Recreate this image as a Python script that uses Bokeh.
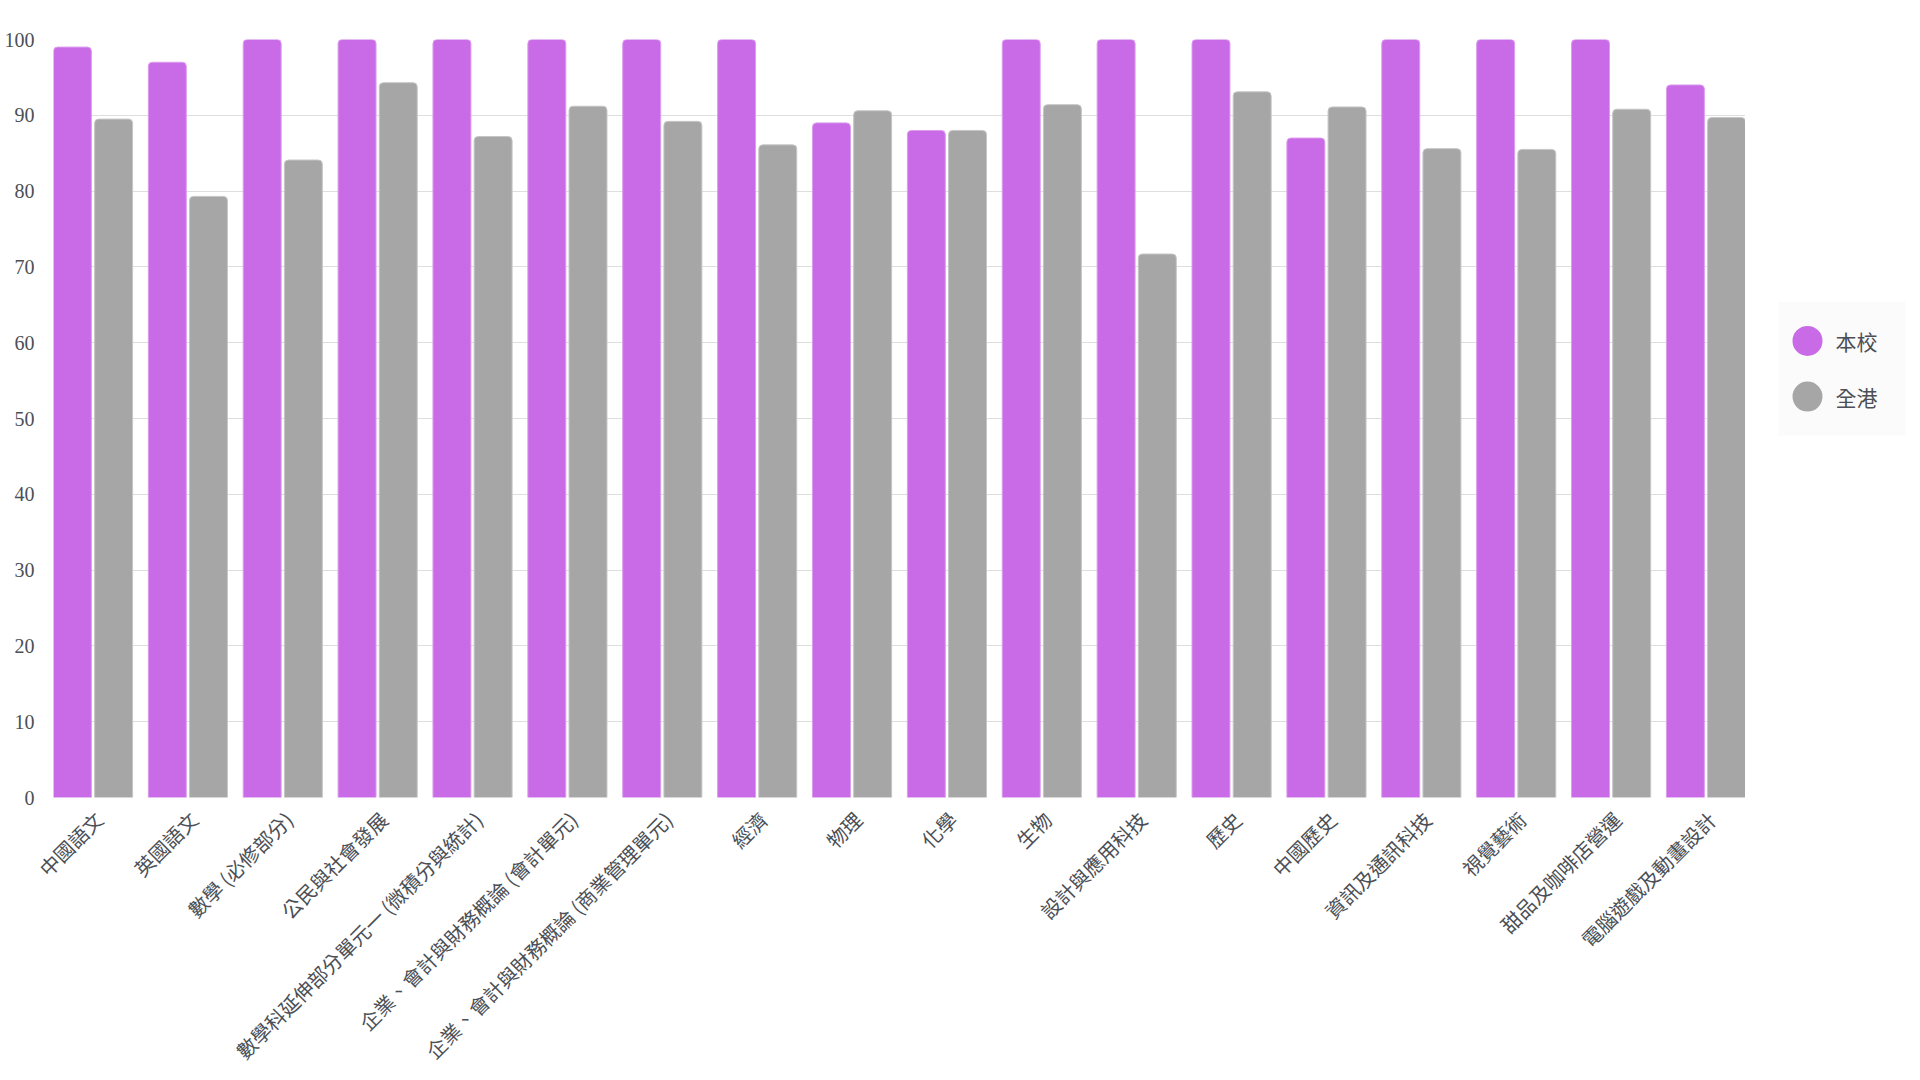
from bokeh.plotting import figure
from bokeh.models import Range1d, ColumnDataSource, FixedTicker
from bokeh.layouts import row
from bokeh.embed import file_html
from bokeh.resources import INLINE
from bokeh.core.properties import value
import math

subjects = [
    "中國語文", "英國語文", "數學 (必修部分)", "公民與社會發展",
    "數學科延伸部分單元一 (微積分與統計)", "企業、會計與財務概論 (會計單元)",
    "企業、會計與財務概論 (商業管理單元)", "經濟", "物理", "化學", "生物",
    "設計與應用科技", "歷史", "中國歷史", "資訊及通訊科技", "視覺藝術",
    "甜品及咖啡店營運", "電腦遊戲及動畫設計",
]
school = [99, 97, 100, 100, 100, 100, 100, 100, 89, 88, 100, 100, 100, 87, 100, 100, 100, 94]
hk = [89.5, 79.3, 84.1, 94.3, 87.2, 91.2, 89.2, 86.1, 90.6, 88.0, 91.4, 71.7, 93.1, 91.1, 85.6, 85.5, 90.8, 89.7]
series = ["本校", "全港"]
colors = ["#c96be6", "#a6a6a6"]
edge_colors = ["#dc9cef", "#c6c6c6"]
y_ticks = list(range(0, 101, 10))

FONT_CJK = "Noto Sans CJK TC"
TEXT_COLOR = "#4b4f56"

n = len(subjects)
centers = [i + 0.5 for i in range(n)]
source = ColumnDataSource(dict(
    x_school=[c - 0.217 for c in centers],
    x_hk=[c + 0.217 for c in centers],
    school=school, hk=hk,
))

# frame: x 53..1745, y 39..801 (page px)
W, H = 1745, 1078
p = figure(
    x_range=Range1d(0.0835, n - 0.0835),
    y_range=Range1d(0, 100),
    width=W, height=H,
    output_backend="svg", toolbar_location=None,
    min_border_left=53, min_border_right=0, min_border_top=39, min_border_bottom=H - 801,
)
p.outline_line_color = None
p.background_fill_color = "white"
p.border_fill_color = "white"
p.xgrid.grid_line_color = None
p.ygrid.grid_line_color = "#dedede"
p.ygrid.grid_line_width = 1

p.yaxis.ticker = FixedTicker(ticks=y_ticks)
for ax in (p.xaxis, p.yaxis):
    ax.axis_line_color = None
    ax.major_tick_line_color = None
    ax.minor_tick_line_color = None
    ax.major_tick_out = 0
    ax.major_tick_in = 0
p.yaxis.major_label_text_font = "Liberation Serif"
p.yaxis.major_label_text_font_size = "20px"
p.yaxis.major_label_text_color = TEXT_COLOR
p.yaxis.major_label_standoff = 19

# category labels, anchored slightly right of each group centre
label_ticks = [c + 0.0625 for c in centers]
p.xaxis.ticker = FixedTicker(ticks=label_ticks)
p.xaxis.major_label_overrides = {t: s for t, s in zip(label_ticks, subjects)}
p.xaxis.major_label_orientation = math.pi / 4
p.xaxis.major_label_text_font = FONT_CJK
p.xaxis.major_label_text_font_size = "20px"
p.xaxis.major_label_text_color = TEXT_COLOR
p.xaxis.major_label_standoff = 18

p.vbar(x="x_school", top="school", width=0.4, source=source,
       fill_color=colors[0], line_color=edge_colors[0], line_width=1, border_radius=(4, 4, 0, 0))
p.vbar(x="x_hk", top="hk", width=0.4, source=source,
       fill_color=colors[1], line_color=edge_colors[1], line_width=1, border_radius=(4, 4, 0, 0))

# legend panel (page-pixel coordinates; frame aligned with main plot frame)
LW = 1920 - W
leg = figure(width=LW, height=H, x_range=Range1d(W, 1920), y_range=Range1d(801, 39),
             output_backend="svg", toolbar_location=None,
             min_border_left=0, min_border_right=0, min_border_top=39, min_border_bottom=H - 801)
leg.xaxis.visible = False
leg.yaxis.visible = False
leg.xgrid.grid_line_color = None
leg.ygrid.grid_line_color = None
leg.outline_line_color = None
leg.border_fill_color = "white"
leg.background_fill_color = "white"
leg.quad(left=[1778], right=[1905], top=[303], bottom=[437], fill_color="#fbfbfb", line_color=None)
leg_y = [342, 398]
leg.scatter(x=[1807, 1807], y=leg_y, size=30, fill_color=colors, line_color=None)
leg.text(x=[1835, 1835], y=leg_y, text=series, text_baseline="middle", text_align="left",
         text_font=value(FONT_CJK), text_font_size="21px", text_color=TEXT_COLOR)

layout = row(p, leg)
open("out.html", "w").write(file_html(layout, INLINE))
